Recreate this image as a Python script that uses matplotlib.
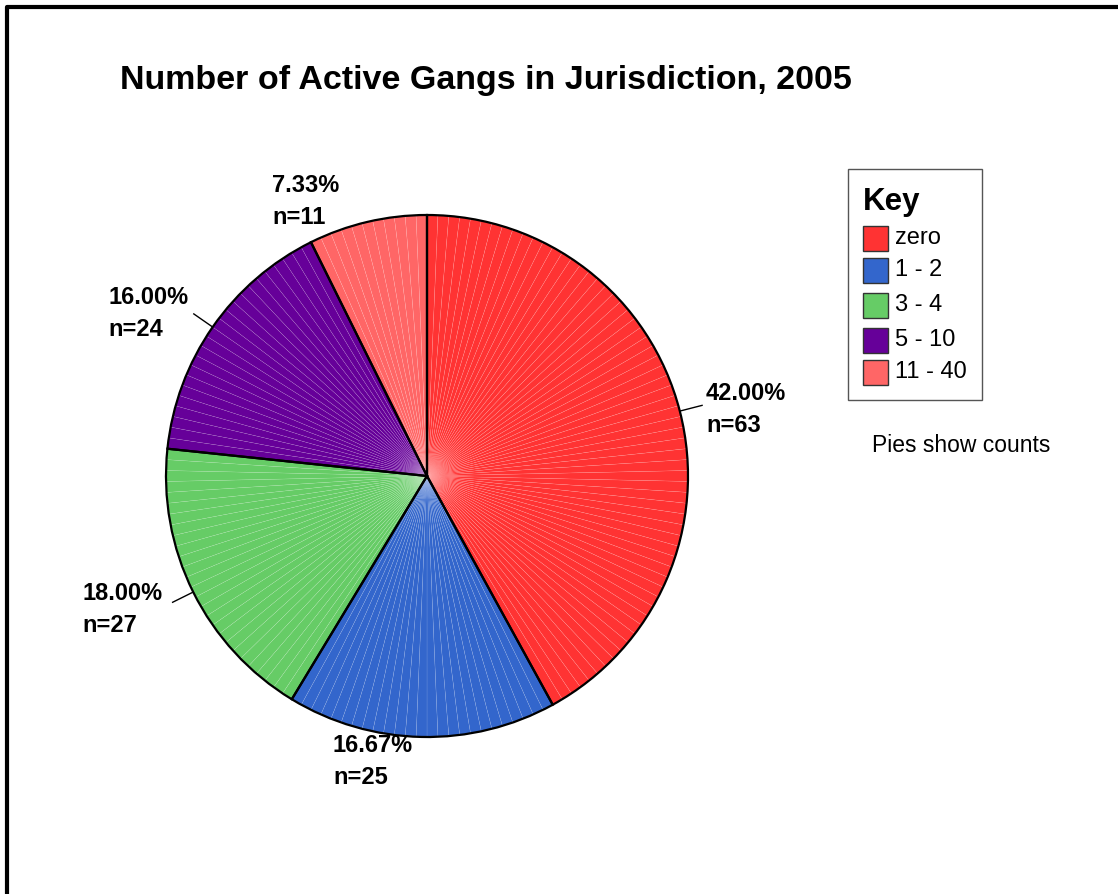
import matplotlib
matplotlib.use("Agg")
import matplotlib.pyplot as plt
from matplotlib.patches import Rectangle
import numpy as np

plt.rcParams['font.family'] = ['Liberation Sans', 'DejaVu Sans']

title = "Number of Active Gangs in Jurisdiction, 2005"
categories = ["zero", "1 - 2", "3 - 4", "5 - 10", "11 - 40"]
counts = [63, 25, 27, 24, 11]
colors = ["#FF3333", "#3366CC", "#66CC66", "#660099", "#FF6666"]
note = "Pies show counts"

W, H = 1118, 894
fig = plt.figure(figsize=(W / 100, H / 100), dpi=100)
ax = fig.add_axes([0, 0, 1, 1])


def Y(py):
    return H - py


# frame (left and top lines)
ax.plot([7, 7, W], [Y(H), Y(7), Y(7)], color='black', lw=3, solid_capstyle='butt')

# title
ax.text(120, Y(80), title, fontsize=24.5, fontweight='bold', ha='left', va='center')

cx, cy, r = 427, Y(476), 261
total = sum(counts)

# unit wedges (each count is one thin wedge)
unit_vals = []
unit_cols = []
for c, col in zip(counts, colors):
    unit_vals += [1] * c
    unit_cols += [col] * c
ax.pie(unit_vals, colors=unit_cols, startangle=90, counterclock=False,
       center=(cx, cy), radius=r, frame=True,
       wedgeprops=dict(edgecolor=(1, 1, 1, 0.22), linewidth=0.3))
# category outlines
ax.pie(counts, colors=['none'] * len(counts), startangle=90, counterclock=False,
       center=(cx, cy), radius=r, frame=True,
       wedgeprops=dict(edgecolor='black', linewidth=1.6, fill=False))
ax.set_xlim(0, W)
ax.set_ylim(0, H)
ax.set_aspect('equal')
ax.axis('off')

# labels
label_pos = [(706, 393), (333, 746), (82, 593), (108, 298), (272, 185)]
leader = [True, False, True, True, False]
cum = 0
for i, c in enumerate(counts):
    mid = (cum + c / 2) / total * 2 * np.pi
    cum += c
    dx, dy = np.sin(mid), np.cos(mid)
    if leader[i]:
        ax.plot([cx + r * dx, cx + (r + 23) * dx], [cy + r * dy, cy + (r + 23) * dy],
                color='black', lw=1)
    lx, ly = label_pos[i]
    ax.text(lx, Y(ly), f"{100 * c / total:.2f}%", fontsize=17, fontweight='bold',
            ha='left', va='center')
    ax.text(lx, Y(ly + 32), f"n={c}", fontsize=17, fontweight='bold',
            ha='left', va='center')

# key box
ax.add_patch(Rectangle((848, Y(400)), 134, 231, facecolor='white',
                       edgecolor='#555555', lw=1))
ax.text(863, Y(202), "Key", fontsize=22.5, fontweight='bold', ha='left', va='center')
item_y = [238, 270, 305, 340, 372]
for cat, col, iy in zip(categories, colors, item_y):
    ax.add_patch(Rectangle((863, Y(iy + 12.5)), 25, 25, facecolor=col,
                           edgecolor='#333333', lw=1))
    ax.text(895, Y(iy), cat, fontsize=17, ha='left', va='center')

ax.text(872, Y(446), note, fontsize=16.5, ha='left', va='center')

fig.savefig("out.png", dpi=100)
